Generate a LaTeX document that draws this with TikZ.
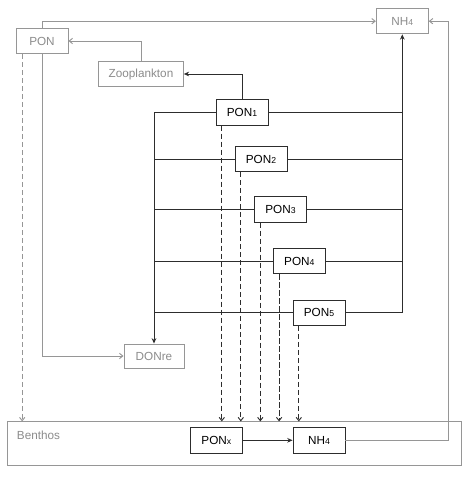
\documentclass[tikz,border=0pt]{standalone}
\usepackage{fontspec}
\setmainfont{Liberation Sans}
\usetikzlibrary{arrows.meta}

\definecolor{darkline}{RGB}{45,45,45}
\definecolor{lightline}{RGB}{150,150,150}
\definecolor{greytext}{RGB}{140,140,140}

\newcommand{\boxfont}{\fontsize{8.8}{10}\selectfont}
\newcommand{\subn}[1]{{\fontsize{6.5}{7}\selectfont #1}}

\begin{document}
\begin{tikzpicture}[x=0.75pt,y=-0.75pt,
        box/.style={draw=darkline,fill=white,line width=0.7pt,minimum width=39pt,minimum height=19pt,inner sep=0pt,font=\boxfont},
        greybox/.style={box,draw=lightline,text=greytext},
        flow/.style={draw=darkline,line width=0.7pt,-{Stealth[length=4pt,width=3.5pt]}},
        plainflow/.style={draw=darkline,line width=0.7pt},
        greyflow/.style={draw=lightline,line width=0.7pt,-{Straight Barb[length=2.5pt,width=4pt]}},
        sink/.style={draw=darkline,line width=0.7pt,dash pattern=on 4pt off 2pt,-{Straight Barb[length=2.5pt,width=4pt]}}]

        \useasboundingbox (0,0) rectangle (468,481);

        % water column
        \node[greybox] (pon) at (42,41) {PON};
        \node[greybox,minimum width=63.5pt] (zoo) at (141,74) {Zooplankton};
        \node[greybox] (nhtop) at (402.3,21.2) {NH\subn{4}};
        \foreach \i/\x/\y in {1/242/112.5, 2/261/159, 3/280.5/209.5, 4/299.3/261.2, 5/319/312.7}
            \node[box] (pon\i) at (\x,\y) {PON\subn{\i}};
        \node[greybox,minimum width=45pt,minimum height=18pt] (donre) at (154,356) {DONre};

        % sediment
        \node[greybox,minimum width=340pt,minimum height=33pt] (benthos) at (234.5,443.85) {};
        \node[text=greytext,font=\boxfont,anchor=north west,inner sep=0pt] (benthoslabel) at ([shift={(7pt,-7pt)}]benthos.north west) {Benthos};
        \node[box] (ponx) at (216.3,440.3) {PON\subn{x}};
        \node[box] (nhbot) at (319,440.3) {NH\subn{4}};

        % grey fluxes
        \draw[greyflow] (zoo.north) |- (pon.east);
        \draw[greyflow] (pon.north) |- (nhtop.west);
        \draw[greyflow] (pon.south) |- (donre.west);
        \draw[greyflow,dash pattern=on 4pt off 2pt] ([xshift=5pt]pon.south west) -- ([xshift=5pt]pon.south west |- benthos.north);
        \draw[greyflow] (nhbot.east) -| ([xshift=15pt]nhtop.east) -- (nhtop.east);

        % PON classes
        \draw[flow] (pon1.north) |- (zoo.east);
        \draw[flow] (pon1.west) -| (donre.north);
        \draw[flow] (pon5.east) -| (nhtop.south);
        \draw[plainflow] (pon1.east) -- (pon1.east -| nhtop.south);
        \foreach \i in {2,3,4}
            \draw[plainflow] (pon\i.east) -- (pon\i.east -| nhtop.south);
        \foreach \i in {2,...,5}
            \draw[plainflow] (pon\i.west) -- (pon\i.west -| donre.north);
        \foreach \i in {1,...,5}
            \draw[sink] ([xshift=4.7pt]pon\i.south west) -- ([xshift=4.7pt]pon\i.south west |- benthos.north);

        \draw[flow] (ponx) -- (nhbot);

\end{tikzpicture}
\end{document}
